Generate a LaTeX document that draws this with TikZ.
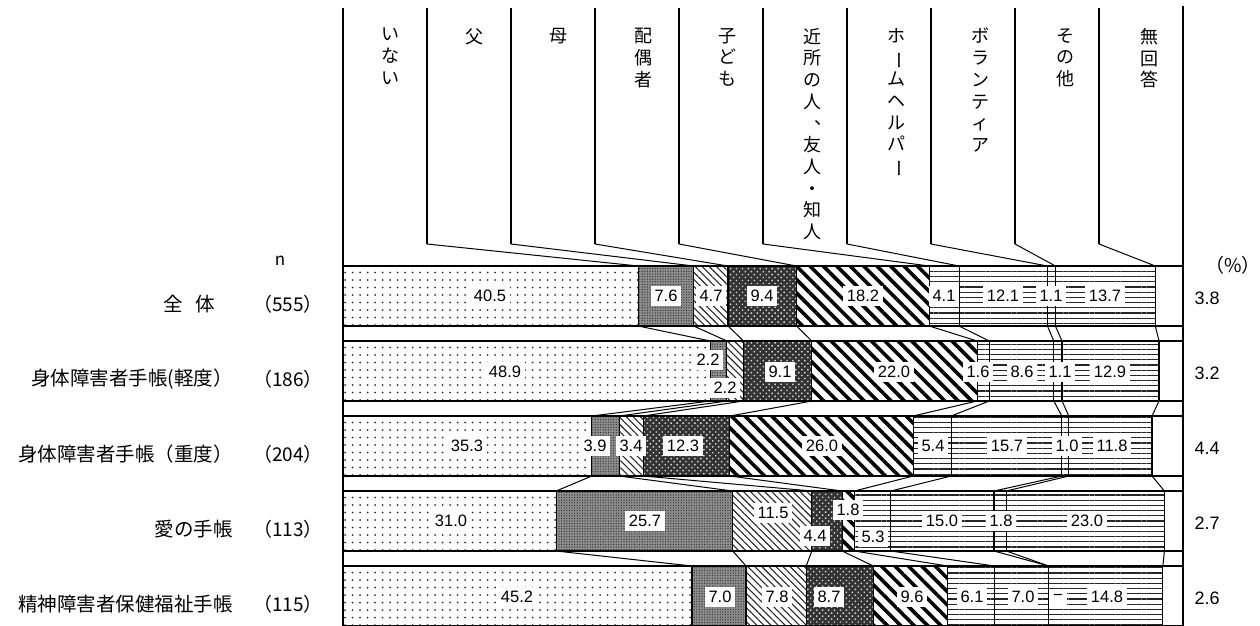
\documentclass[tikz,border=0pt]{standalone}
\usepackage{fontspec}
\usepackage{graphicx}
\setmainfont{Liberation Sans}
\newfontfamily\jp{Noto Sans CJK JP}
\usetikzlibrary{patterns.meta}
\newcommand\tatebou{\rotatebox[origin=c]{-90}{ー}}
\newcommand\tateten{\makebox[1em][l]{\hspace{.62em}\raisebox{.3em}[0pt][0pt]{、}}}

\tikzset{
  frameline/.style={line width=2.8pt},
  colline/.style={line width=1.8pt},
  leader/.style={line width=1pt},
  seg/.style={draw, line width=1.1pt},
  pct/.style={fill=white, inner xsep=4pt, inner ysep=4.5pt, font=\fontsize{16.5}{18}\selectfont},
  endval/.style={font=\fontsize{18}{20}\selectfont},
  headtxt/.style={anchor=north, align=center, inner sep=0pt, font=\jp\fontsize{18}{21.7}\selectfont},
  rowlab/.style={anchor=east, inner sep=0pt, font=\jp\fontsize{19.5}{22}\selectfont},
  ncount/.style={inner sep=0pt, font=\jp\fontsize{19}{22}\selectfont},
  pat1/.style={pattern={Dots[distance=7.5pt,radius=1pt]}, pattern color=black!80},
  pat2/.style={preaction={fill=black!45}, pattern={Dots[distance=2.6pt,radius=.6pt]}, pattern color=black!85},
  pat3/.style={pattern={Lines[angle=-45,distance=5pt,line width=1.1pt]}, pattern color=black!85},
  pat4/.style={preaction={fill=black!80}, pattern={Dots[angle=45,distance=4.2pt,radius=1pt]}, pattern color=black!15},
  pat5/.style={pattern={Lines[angle=-45,distance=9.5pt,line width=3.6pt]}, pattern color=black},
  hlines/.style={pattern={Lines[angle=0,distance=5.2pt,line width=1.3pt]}, pattern color=black!85},
  pat6/.style=hlines, pat7/.style=hlines, pat8/.style=hlines, pat9/.style=hlines,
  pat10/.style={fill=white}
}

\begin{document}
\begin{tikzpicture}[x=1pt,y=-1pt]
\useasboundingbox (0,0) rectangle (1260,625);
% bars, one row per group
\foreach \r/\bnds in {1/{638.3,693.7,728.0,796.5,929.3,959.1,1047.4,1055.4,1155.3,1183},
  2/{710.4,726.9,743.5,811.8,977.1,989.2,1053.8,1062.0,1159.0,1183},
  3/{591.8,619.2,643.2,729.9,913.1,951.2,1061.8,1068.8,1152.0,1183},
  4/{556.1,732.8,811.8,842.1,854.4,890.9,994.0,1006.3,1164.4,1183},
  5/{692.0,746.0,806.2,873.4,947.5,994.6,1048.7,1048.7,1162.9,1183}}{
  \pgfmathsetmacro\ytop{266+75*(\r-1)}
  \foreach \x [count=\k, remember=\x as \xa (initially 343)] in \bnds {
    \path[seg,pat\k] (\xa,\ytop) rectangle (\x,\ytop+60);
    \coordinate (t\r-\k) at (\x,\ytop);
    \coordinate (b\r-\k) at (\x,\ytop+60);
  }
}
% header columns
\foreach \k in {1,...,9}
  \draw[colline] (343+84*\k,8) -- (343+84*\k,244) coordinate (hb\k);
\foreach \t [count=\k] in {い\\な\\い, 父, 母, 配\\偶\\者, 子\\ど\\も,
  近\\所\\の\\人\\\tateten\\友\\人\\・\\知\\人,
  ホ\\\tatebou\\ム\\ヘ\\ル\\パ\\\tatebou,
  ボ\\ラ\\ン\\テ\\ィ\\ア, そ\\の\\他, 無\\回\\答}
  \node[headtxt] (hd\k) at (305.6+84.4*\k,28) {\t};
% leaders
\foreach \k in {1,...,9} \draw[leader] (hb\k) -- (t1-\k);
\foreach \r [evaluate=\r as \s using int(\r+1)] in {1,...,4}
  \foreach \k in {1,...,9} \draw[leader] (b\r-\k) -- (t\s-\k);
% values
\foreach \x/\y/\t [count=\i] in {
  490/296/40.5, 666/296/7.6, 711/296/4.7, 762/296/9.4, 863/296/18.2, 944/296/4.1, 1003/296/12.1, 1051/296/1.1, 1105/296/13.7,
  505/372/48.9, 708/360/2.2, 725/388/2.2, 780/372/9.1, 894/372/22.0, 978/372/1.6, 1022/372/8.6, 1060/372/1.1, 1110/372/12.9,
  467/446/35.3, 595/446/3.9, 631/446/3.4, 683/446/12.3, 822/446/26.0, 933/446/5.4, 1007/446/15.7, 1067/446/1.0, 1112/446/11.8,
  451/521/31.0, 645/521/25.7, 773/513/11.5, 815/536/4.4, 848/510/1.8, 873/537/5.3, 942/521/15.0, 1001/521/1.8, 1087/521/23.0,
  517/597/45.2, 720/597/7.0, 777/597/7.8, 829/597/8.7, 912/597/9.6, 972/597/6.1, 1023/597/7.0, 1058/597/−, 1107/597/14.8}
  \node[pct] (lab\i) at (\x,\y) {\t};
\foreach \t [count=\r] in {3.8,3.2,4.4,2.7,2.6}
  \node[endval] (na\r) at (1207,223+75*\r) {\t};
% groups and n
\foreach \t/\n/\xe [count=\r] in {全\hspace{.65em}体/555/215, 身体障害者手帳(軽度）/186/233, 身体障害者手帳（重度）/204/233,
  愛の手帳/113/233, 精神障害者保健福祉手帳/115/233}{
  \node[rowlab] (grp\r) at (\xe,229+75*\r) {\t};
  \node[ncount] (n\r) at (288,229+75*\r) {（\n）};
}
\node[ncount, font=\jp\fontsize{17}{20}\selectfont] (ntitle) at (280,261) {n};
\node[ncount] (unit) at (1233,265) {（\%）};
% frame
\draw[frameline] (343,8) -- (343,625);
\draw[frameline] (1183,6) -- (1183,625);
\end{tikzpicture}
\end{document}
